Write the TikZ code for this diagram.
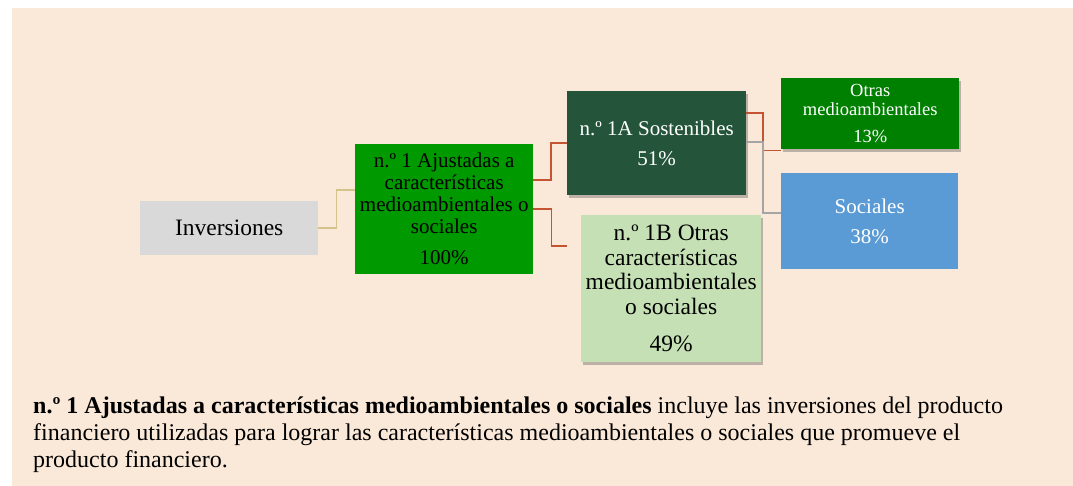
\documentclass[tikz,border=0pt]{standalone}
\usepackage{fontspec}
\setmainfont{Liberation Serif}
\usetikzlibrary{shadows,calc}
\definecolor{bg}{RGB}{250,232,216}
\definecolor{invgray}{RGB}{217,217,217}
\definecolor{gone}{RGB}{0,153,0}
\definecolor{gdark}{RGB}{36,85,58}
\definecolor{glight}{RGB}{197,224,180}
\definecolor{gmid}{RGB}{0,128,0}
\definecolor{sblue}{RGB}{91,155,213}
\definecolor{redline}{RGB}{197,85,50}
\definecolor{tanline}{RGB}{212,196,140}
\definecolor{grayline}{RGB}{165,165,165}
\tikzset{
  box/.style={anchor=north west, inner sep=0pt, align=center, draw=none},
  shad/.style={drop shadow={shadow xshift=2pt, shadow yshift=-3pt, opacity=0.35, fill=black!70}},
  conn/.style={line width=1.6pt},
  captxt/.style={anchor=base west, inner sep=0pt, font=\fontsize{24}{27}\selectfont}
}
\begin{document}
\begin{tikzpicture}[x=1pt,y=-1pt]
\useasboundingbox (0,0) rectangle (1073,486);
\fill[white] (0,0) rectangle (1073,486);
\fill[bg] (12,8) rectangle (1073,486);

\node[box, fill=invgray, minimum width=178pt, minimum height=54pt,
  font=\fontsize{23.5}{26}\selectfont] (inv) at (140,201) {Inversiones};

\node[box, fill=gone, minimum width=178pt, minimum height=130pt,
  font=\fontsize{21}{22}\selectfont] (n1) at (355,144)
  {n.º 1 Ajustadas a\\características\\medioambientales o\\sociales\\[9pt]100\%};

\node[box, fill=gdark, shad, minimum width=179pt, minimum height=104pt, text=white,
  font=\fontsize{21}{29.5}\selectfont] (a1) at (567,91)
  {n.º 1A Sostenibles\\51\%};

\node[box, fill=glight, shad, minimum width=180pt, minimum height=147pt,
  font=\fontsize{23.5}{24.5}\selectfont] (b1) at (581,215)
  {n.º 1B Otras\\características\\medioambientales\\o sociales\\[13pt]49\%};

\node[box, fill=gmid, shad, minimum width=178pt, minimum height=71pt, text=white,
  font=\fontsize{18.5}{18.5}\selectfont] (ot) at (781,78)
  {Otras\\medioambientales\\[8.5pt]13\%};

\node[box, fill=sblue, minimum width=177pt, minimum height=96pt, text=white,
  font=\fontsize{21}{30}\selectfont] (so) at (781,173)
  {Sociales\\38\%};

% connectors
\coordinate (c1) at (355,190);
\draw[conn, tanline] (inv.east) -- ++(18,0) |- (c1);

\coordinate (c2s) at (533,180);
\draw[conn, redline] (c2s) -- ++(18,0) |- (a1.west);

\coordinate (c3e) at (567,246);
\draw[conn, redline] (n1.east) -- ++(18,0) |- (c3e);

\coordinate (c4s) at (746,113);
\draw[conn, redline] (c4s) -- ++(17,0) |- ($(ot.south west)+(0,1)$);

\coordinate (c5s) at (746,142);
\coordinate (c5e) at (781,213);
\draw[conn, grayline] (c5s) -- ++(17,0) |- (c5e);

% caption
\node[captxt] (cap1) at (33,413) {\textbf{n.º 1 Ajustadas a características medioambientales o sociales} incluye las inversiones del producto};
\node[captxt] (cap2) at (33,440) {financiero utilizadas para lograr las características medioambientales o sociales que promueve el};
\node[captxt] (cap3) at (33,467) {producto financiero.};
\end{tikzpicture}
\end{document}
